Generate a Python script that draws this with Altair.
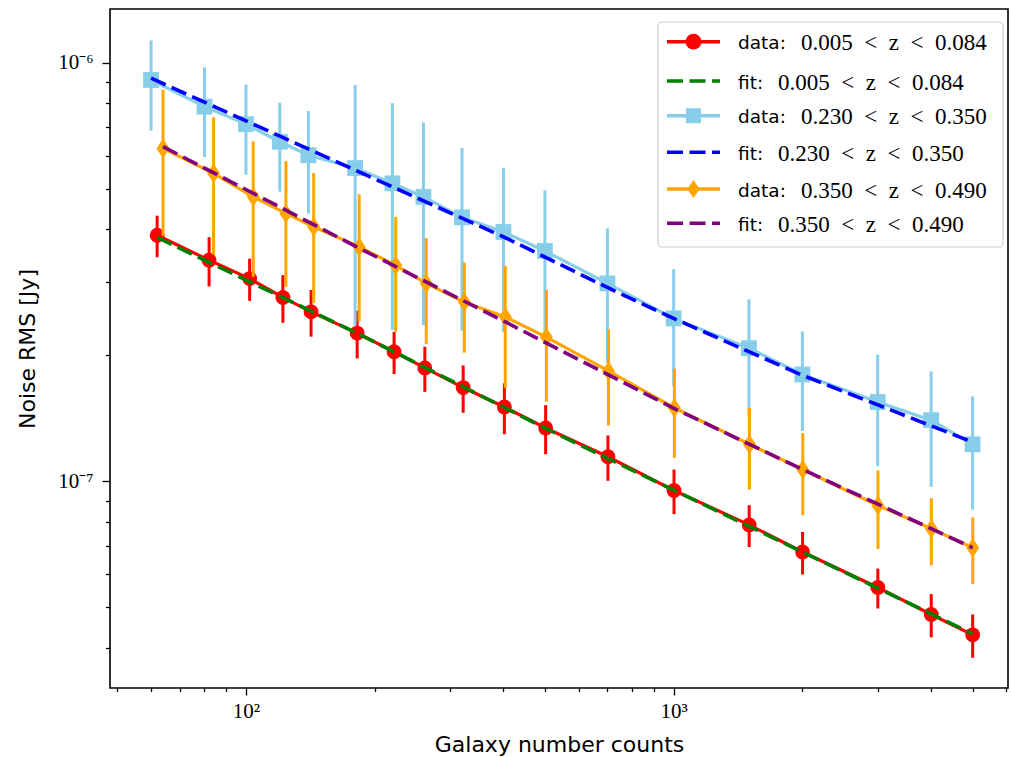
import altair as alt
import pandas as pd

# ---------------- data ----------------
x_red = [62, 82, 102, 122, 142, 182, 222, 262, 322, 402, 502, 702, 1002, 1502, 2002, 3002, 4002, 5002]
x_blue = [60, 80, 100, 120, 140, 180, 220, 260, 320, 400, 500, 700, 1000, 1500, 2000, 3000, 4000, 5000]
x_orange = [64, 84, 104, 124, 144, 184, 224, 264, 324, 404, 504, 704, 1004, 1504, 2004, 3004, 4004, 5004]

rms_red = [3.87e-7, 3.375e-7, 3.05e-7, 2.75e-7, 2.54e-7, 2.26e-7, 2.04e-7, 1.866e-7, 1.675e-7,
           1.505e-7, 1.341e-7, 1.145e-7, 9.51e-8, 7.87e-8, 6.78e-8, 5.58e-8, 4.81e-8, 4.30e-8]
err_red = [4.4e-8, 4.55e-8, 3.52e-8, 3.59e-8, 3.24e-8, 2.94e-8, 2.36e-8, 2.30e-8, 2.17e-8,
           2.09e-8, 1.80e-8, 1.42e-8, 1.16e-8, 9.0e-9, 7.9e-9, 6.1e-9, 5.7e-9, 5.1e-9]

rms_blue = [9.09e-7, 7.85e-7, 7.13e-7, 6.47e-7, 6.01e-7, 5.6e-7, 5.15e-7, 4.78e-7, 4.27e-7,
            3.94e-7, 3.55e-7, 2.97e-7, 2.45e-7, 2.08e-7, 1.80e-7, 1.547e-7, 1.40e-7, 1.226e-7]
err_blue = [2.21e-7, 1.90e-7, 1.73e-7, 1.55e-7, 1.65e-7, 3.24e-7, 2.85e-7, 2.42e-7, 1.98e-7,
            1.67e-7, 1.40e-7, 1.05e-7, 7.6e-8, 6.4e-8, 4.8e-8, 4.6e-8, 4.3e-8, 3.7e-8]

rms_orange = [6.24e-7, 5.44e-7, 4.78e-7, 4.365e-7, 4.055e-7, 3.63e-7, 3.28e-7, 2.97e-7, 2.68e-7,
              2.47e-7, 2.21e-7, 1.835e-7, 1.497e-7, 1.226e-7, 1.067e-7, 8.76e-8, 7.71e-8, 6.94e-8]
err_orange = [2.38e-7, 1.96e-7, 1.70e-7, 1.45e-7, 1.39e-7, 1.22e-7, 1.00e-7, 8.4e-8, 6.5e-8,
              8.0e-8, 6.6e-8, 4.75e-8, 3.6e-8, 2.7e-8, 2.37e-8, 1.86e-8, 1.41e-8, 1.26e-8]

# fitted curves, read at a few points along each dashed line
fit_x_red = [62, 182, 502, 1002, 2002, 5002]
fit_red = [3.825e-7, 2.258e-7, 1.338e-7, 9.52e-8, 6.78e-8, 4.324e-8]
fit_x_blue = [60, 180, 400, 700, 1000, 2000, 5000]
fit_blue = [9.18e-7, 5.54e-7, 3.837e-7, 2.904e-7, 2.449e-7, 1.792e-7, 1.241e-7]
fit_x_orange = [64, 184, 404, 1004, 2004, 5004]
fit_orange = [6.30e-7, 3.605e-7, 2.403e-7, 1.492e-7, 1.067e-7, 6.94e-8]

legend_prefix = ["data:", "fit:", "data:", "fit:", "data:", "fit:"]
legend_range = ["0.005\u2002<\u2002z\u2002<\u20020.084", "0.005\u2002<\u2002z\u2002<\u20020.084",
                "0.230\u2002<\u2002z\u2002<\u20020.350", "0.230\u2002<\u2002z\u2002<\u20020.350",
                "0.350\u2002<\u2002z\u2002<\u20020.490", "0.350\u2002<\u2002z\u2002<\u20020.490"]

x_ticks = [50, 60, 70, 80, 90, 100, 200, 300, 400, 500, 600, 700, 800, 900,
           1000, 2000, 3000, 4000, 5000, 6000]
y_ticks = [4e-8, 5e-8, 6e-8, 7e-8, 8e-8, 9e-8, 1e-7, 2e-7, 3e-7, 4e-7, 5e-7,
           6e-7, 7e-7, 8e-7, 9e-7, 1e-6]

# ---------------- styling ----------------
W, H = 898, 679
DIAMOND = "M0,-1L0.67,0L0,1L-0.67,0Z"

xscale = alt.Scale(type="log", domain=[48.1, 6050], nice=False)
yscale = alt.Scale(type="log", domain=[3.21e-8, 1.343e-6], nice=False)

xaxis = alt.Axis(
    values=x_ticks,
    labelExpr="datum.value == 100 ? '10\u00b2' : (datum.value == 1000 ? '10\u00b3' : '')",
    tickSize={"condition": {"test": "datum.value == 100 || datum.value == 1000", "value": 7}, "value": 3.5},
    grid=False, domain=False, labelOverlap=False, labelFlush=False,
    labelFont="Liberation Serif", labelFontSize=21, labelColor="black", labelPadding=5,
    tickColor="black", tickWidth=1.3,
    titleFont="DejaVu Sans", titleFontSize=22, titleFontWeight="normal", titleColor="black",
    titleX=449, titleY=56, titleBaseline="middle",
)
ycond = "abs(log(datum.value)/LN10 + 6) < 0.01 || abs(log(datum.value)/LN10 + 7) < 0.01"
yaxis = alt.Axis(
    values=y_ticks,
    labelExpr="abs(log(datum.value)/LN10 + 6) < 0.01 ? '10\u207b\u2076' : "
              "(abs(log(datum.value)/LN10 + 7) < 0.01 ? '10\u207b\u2077' : '')",
    tickSize={"condition": {"test": ycond, "value": 8}, "value": 4.5},
    grid=False, domain=False, labelOverlap=False, labelFlush=False,
    labelFont="Liberation Serif", labelFontSize=21, labelColor="black", labelPadding=9,
    tickColor="black", tickWidth=1.3,
    titleFont="DejaVu Sans", titleFontSize=22, titleFontWeight="normal", titleColor="black",
    titleX=-83, titleY=339.5, titleBaseline="middle",
)

XT = "Galaxy number counts"
YT = "Noise RMS [Jy]"


def enc_x():
    return alt.X("x:Q", scale=xscale, axis=xaxis, title=XT)


def enc_y(field):
    return alt.Y(field, scale=yscale, axis=yaxis, title=YT)


def series_layers(xs, ys, es, color, shape, size, fx, fy, fit_color):
    df = pd.DataFrame({"x": xs, "y": ys, "e": es})
    df["lo"] = df["y"] - df["e"]
    df["hi"] = df["y"] + df["e"]
    base = alt.Chart(df)
    bars = base.mark_rule(color=color, strokeWidth=3).encode(
        x=enc_x(), y=enc_y("lo:Q"), y2="hi:Q")
    line = base.mark_line(color=color, strokeWidth=3.2).encode(x=enc_x(), y=enc_y("y:Q"))
    pts = base.mark_point(filled=True, shape=shape, size=size, color=color, opacity=1).encode(
        x=enc_x(), y=enc_y("y:Q"))
    fdf = pd.DataFrame({"x": fx, "y": fy})
    fit = alt.Chart(fdf).mark_line(color=fit_color, strokeWidth=3.6, strokeDash=[16, 6.5]).encode(
        x=enc_x(), y=enc_y("y:Q"))
    return [bars, line, pts, fit]


layers = []
layers += series_layers(x_red, rms_red, err_red, "#ff0000", "circle", 220, fit_x_red, fit_red, "#008000")
layers += series_layers(x_blue, rms_blue, err_blue, "#87ceeb", "square", 250, fit_x_blue, fit_blue, "#0000ff")
layers += series_layers(x_orange, rms_orange, err_orange, "#ffa500", DIAMOND, 380, fit_x_orange, fit_orange, "#800080")

# ---------------- manual legend (pixel positions inside plot area) ----------------
one = pd.DataFrame({"k": [0]})
layers.append(
    alt.Chart(one).mark_rect(fill="white", fillOpacity=0.85, stroke="#cccccc", strokeWidth=1.2,
                             cornerRadius=4).encode(
        x=alt.value(548), x2=alt.value(893), y=alt.value(13), y2=alt.value(238))
)
row_y = [32.7, 72, 106.7, 143.3, 180, 214.3]
leg_colors = ["#ff0000", "#008000", "#87ceeb", "#0000ff", "#ffa500", "#800080"]
leg_shapes = ["circle", None, "square", None, DIAMOND, None]
leg_sizes = [250, None, 225, None, 330, None]
for i in range(6):
    ry = row_y[i]
    if leg_shapes[i] is None:
        layers.append(alt.Chart(one).mark_rule(color=leg_colors[i], strokeWidth=3.6,
                                               strokeDash=[16, 6.5]).encode(
            x=alt.value(557), x2=alt.value(610), y=alt.value(ry)))
    else:
        layers.append(alt.Chart(one).mark_rule(color=leg_colors[i], strokeWidth=3.4).encode(
            x=alt.value(557), x2=alt.value(610), y=alt.value(ry)))
        layers.append(alt.Chart(one).mark_point(filled=True, shape=leg_shapes[i], size=leg_sizes[i],
                                                color=leg_colors[i], opacity=1).encode(
            x=alt.value(583.5), y=alt.value(ry)))
    tdf = pd.DataFrame({"p": [legend_prefix[i]], "r": [legend_range[i]]})
    layers.append(alt.Chart(tdf).mark_text(align="left", baseline="middle", font="DejaVu Sans",
                                           fontSize=18.5, color="black").encode(
        x=alt.value(628), y=alt.value(ry + 1.5), text="p:N"))
    layers.append(alt.Chart(tdf).mark_text(align="left", baseline="middle", font="Liberation Serif",
                                           fontSize=23, color="black").encode(
        x=alt.value(691 if legend_prefix[i] == "data:" else 668), y=alt.value(ry + 1.5), text="r:N"))

chart = alt.layer(*layers).properties(
    width=W, height=H,
    padding={"left": 110, "top": 9, "right": 3, "bottom": 69},
    autosize=alt.AutoSizeParams(type="none"),
    background="white",
).configure_view(stroke="black", strokeWidth=1.6)

chart.save("out.html", embed_options={"renderer": "svg", "actions": False})
